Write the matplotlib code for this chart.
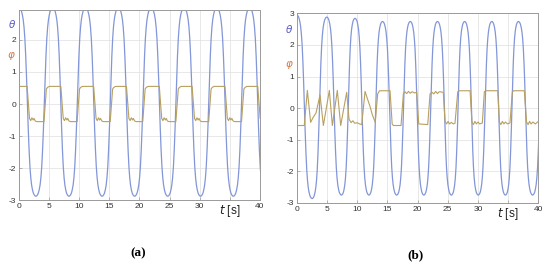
import numpy as np
import matplotlib
matplotlib.use('Agg')
import matplotlib.pyplot as plt
from matplotlib.transforms import blended_transform_factory

plt.rcParams['font.family'] = ['Liberation Sans', 'DejaVu Sans']

# swing shape of theta from zero crossing (0) to extreme (1)
shape_s = [0, 0.1, 0.2, 0.3, 0.4, 0.5, 0.6, 0.7, 0.8, 0.9, 0.95, 1.0]
shape_v = [0, 0.27, 0.5, 0.68, 0.8, 0.88, 0.93, 0.965, 0.985, 0.996, 0.999, 1.0]

# (a) theta extremes (time, value); last one lies past the axis end
theta_a_t = [0.0, 2.8, 5.6, 8.3, 11.05, 13.8, 16.5, 19.2, 21.95, 24.7, 27.4, 30.15,
             32.85, 35.6, 38.3, 41.0]
theta_a_v = [3.0, -2.88, 3.0, -2.88, 3.0, -2.88, 3.0, -2.88, 3.0, -2.88, 3.0,
             -2.88, 3.0, -2.88, 3.0, -2.88]

# (b) theta extremes
theta_b_t = [0.0, 2.55, 4.97, 7.4, 9.65, 11.95, 14.2, 16.55, 18.8, 21.05, 23.3, 25.6,
             27.8, 30.05, 32.3, 34.55, 36.7, 39.05, 41.4]
theta_b_v = [2.95, -2.86, 2.88, -2.75, 2.84, -2.75, 2.74, -2.75, 2.74, -2.75, 2.74,
             -2.75, 2.74, -2.75, 2.74, -2.75, 2.74, -2.75, 2.74]

# (a) phi: switching times and the shape after each switch
phi_a_fall = [1.35, 6.95, 12.4, 17.85, 23.3, 28.75, 34.2, 39.65]
phi_a_rise = [4.15, 9.65, 15.15, 20.55, 26.05, 31.5, 36.95]
phi_a_high_dt = [0, 0.4, 0.6, 0.9]
phi_a_high_v = [-0.55, 0.47, 0.52, 0.55]
phi_a_low_dt = [0, 0.4, 0.6, 0.8, 1.0, 1.15, 1.35, 1.6]
phi_a_low_v = [0.55, -0.45, -0.52, -0.43, -0.5, -0.45, -0.53, -0.55]

# (b) phi
phi_b_t = [0, 1.25, 1.76, 2.3, 2.7, 3.2, 3.86, 4.41, 5.4, 5.9, 6.72, 7.28, 8.27, 8.66,
           9.0, 9.3, 9.6, 10.0, 10.4, 10.76, 11.31, 11.7, 12.14, 12.5, 13.0, 13.4, 13.7,
           15.45, 15.8, 16.0, 17.27, 17.65, 17.9, 18.2, 18.5, 18.8, 19.1, 19.5, 19.87,
           20.2, 21.69, 22.07, 22.4, 22.7, 23.0, 23.3, 23.6, 24.27, 24.55, 24.8, 25.05,
           25.3, 25.6, 25.9, 26.2, 26.66, 26.9, 28.7, 29.0, 29.25, 29.5, 29.75, 30.0,
           30.3, 30.73, 31.06, 31.3, 33.28, 33.55, 33.8, 34.05, 34.3, 34.55, 34.9, 35.3,
           35.7, 35.95, 37.68, 38.05, 38.3, 38.55, 38.8, 39.1, 39.5, 40.0]
phi_b_v = [-0.55, -0.55, 0.56, -0.45, -0.3, -0.15, 0.42, -0.55, 0.56, -0.55, 0.56, -0.55,
           0.5, -0.35, -0.46, -0.4, -0.48, -0.46, -0.5, -0.52, 0.53, 0.3, 0.05, -0.2,
           -0.45, 0.45, 0.55, 0.55, -0.5, -0.55, -0.55, 0.45, 0.52, 0.46, 0.53, 0.47,
           0.52, 0.48, 0.5, -0.5, -0.52, 0.45, 0.5, 0.45, 0.53, 0.46, 0.52, 0.5, -0.42,
           -0.5, -0.42, -0.5, -0.45, -0.5, -0.48, 0.52, 0.55, 0.55, -0.44, -0.52, -0.42,
           -0.5, -0.44, -0.5, -0.47, 0.52, 0.55, 0.55, -0.44, -0.52, -0.42, -0.5, -0.44,
           -0.5, -0.47, 0.52, 0.55, 0.55, -0.44, -0.52, -0.42, -0.5, -0.44, -0.5, -0.42]

xticks = [0, 5, 10, 15, 20, 25, 30, 35, 40]
xlabels = ['0', '5', '10', '15', '20', '25', '30', '', '40']

c_theta = '#8296d8'
c_phi = '#b8a060'


def swing(ext_t, ext_v):
    tt, vv = [], []
    for i in range(len(ext_t) - 1):
        t0, t1 = ext_t[i], ext_t[i + 1]
        tm = (t0 + t1) / 2
        for s, p in zip(shape_s[::-1], shape_v[::-1]):
            tt.append(t0 + (1 - s) * (tm - t0))
            vv.append(ext_v[i] * p)
        for s, p in zip(shape_s[1:], shape_v[1:]):
            tt.append(tm + s * (t1 - tm))
            vv.append(ext_v[i + 1] * p)
    return tt, vv


def square(fall, rise):
    tt, vv = [0.0], [0.55]
    for i, tf in enumerate(fall):
        tt.append(tf - 0.15)
        vv.append(0.55)
        tt += [tf + d for d in phi_a_low_dt]
        vv += phi_a_low_v
        if i < len(rise):
            tr = rise[i]
            tt.append(tr)
            vv.append(-0.55)
            tt += [tr + d for d in phi_a_high_dt]
            vv += phi_a_high_v
    return tt, vv


fig = plt.figure(figsize=(5.5, 2.66), dpi=100)
ax1 = fig.add_axes([0.0345, 0.248, 0.438, 0.716])
ax2 = fig.add_axes([0.5395, 0.237, 0.4393, 0.713])

ta, va = swing(theta_a_t, theta_a_v)
tb, vb = swing(theta_b_t, theta_b_v)
pa_t, pa_v = square(phi_a_fall, phi_a_rise)

ax1.plot(ta, va, color=c_theta, lw=0.9)
ax1.plot(pa_t, pa_v, color=c_phi, lw=0.8)
ax2.plot(tb, vb, color=c_theta, lw=0.9)
ax2.plot(phi_b_t, phi_b_v, color=c_phi, lw=0.8)

for ax, top, yt, ylab in [(ax1, 2.95, [-3, -2, -1, 0, 1, 2], 1.5),
                          (ax2, 3.0, [-3, -2, -1, 0, 1, 2, 3], 1.35)]:
    ax.set_xlim(0, 40)
    ax.set_ylim(-3, top)
    ax.set_xticks(xticks)
    ax.set_xticklabels(xlabels)
    ax.set_yticks(yt)
    ax.set_yticklabels([str(v) for v in yt])
    ax.grid(True, color='#e4e4e4', lw=0.6)
    ax.set_axisbelow(True)
    ax.tick_params(direction='in', length=2, width=0.5, colors='#999999',
                   labelcolor='#333333', labelsize=6, pad=2)
    for sp in ax.spines.values():
        sp.set_color('#9a9a9a')
        sp.set_linewidth(0.7)
    tr = blended_transform_factory(ax.transAxes, ax.transData)
    ax.text(-0.03, 2.5, r'$\theta$', color='#5a5ac8', fontsize=7.5, transform=tr,
            ha='center', va='center')
    ax.text(-0.03, ylab, r'$\varphi$', color='#d0784a', fontsize=7.5, transform=tr,
            ha='center', va='center')
    tr2 = blended_transform_factory(ax.transData, ax.transAxes)
    ax.text(35, -0.058, r'$\mathit{t}$ [s]', fontsize=8.5, color='#222222',
            transform=tr2, ha='center', va='center')

fig.text(138 / 550, 1 - 253 / 266, '(a)', fontsize=9.5, fontweight='bold',
         family='Liberation Serif', ha='center', va='center')
fig.text(415 / 550, 1 - 255 / 266, '(b)', fontsize=9.5, fontweight='bold',
         family='Liberation Serif', ha='center', va='center')

fig.savefig('out.png', dpi=100)
